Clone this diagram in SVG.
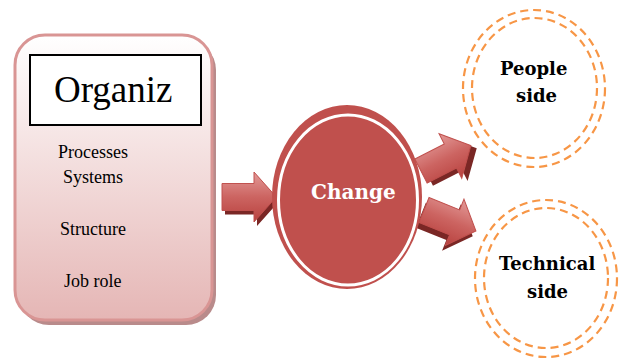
<svg xmlns="http://www.w3.org/2000/svg" width="623" height="358" viewBox="0 0 623 358">
  <defs>
    <linearGradient id="cardFill" x1="0" y1="0" x2="0" y2="1">
      <stop offset="0" stop-color="#ffffff"/>
      <stop offset="1" stop-color="#e5b6b5"/>
    </linearGradient>
    <linearGradient id="arrowFill" x1="0" y1="0" x2="0" y2="1">
      <stop offset="0" stop-color="#e39a98"/>
      <stop offset="0.5" stop-color="#cc6461"/>
      <stop offset="1" stop-color="#b8413e"/>
    </linearGradient>
    <!-- block arrow pointing along +x, tail at origin, length 56 -->
    <path id="blockArrow" d="M0,-13.5 L33,-13.5 L33,-25 L56,0 L33,25 L33,13.5 L0,13.5 Z"/>
  </defs>

  <rect width="623" height="358" fill="#ffffff"/>

  <!-- organisation card -->
  <g id="organiz">
    <rect x="19" y="40" width="197" height="285" rx="30" fill="#b98b8b"/>
    <rect x="15" y="35" width="197" height="285" rx="30" fill="url(#cardFill)" stroke="#d99594" stroke-width="3"/>
    <rect x="30" y="55" width="171" height="70" fill="#ffffff" stroke="#000000" stroke-width="2"/>
    <text x="54" y="102" font-size="37" font-family="Liberation Serif">Organiz</text>
    <text x="58" y="158" font-size="18" font-family="Liberation Serif">Processes</text>
    <text x="63" y="183" font-size="18" font-family="Liberation Serif">Systems</text>
    <text x="60" y="235" font-size="18" font-family="Liberation Serif">Structure</text>
    <text x="64" y="287" font-size="18" font-family="Liberation Serif">Job role</text>
  </g>

  <!-- connectors: block arrows with a dark drop shadow -->
  <g id="connectors">
    <g transform="translate(222,197)">
      <use href="#blockArrow" fill="#7a2725" transform="translate(3,4) scale(0.97,1)"/>
      <use href="#blockArrow" fill="url(#arrowFill)" stroke="#c0504d" stroke-width="1" transform="scale(0.97,1)"/>
    </g>
    <g transform="translate(421,171) rotate(-27)">
      <use href="#blockArrow" fill="#7a2725" transform="translate(4,5)"/>
      <use href="#blockArrow" fill="url(#arrowFill)" stroke="#c0504d" stroke-width="1"/>
    </g>
    <g transform="translate(424,210) rotate(22)">
      <use href="#blockArrow" fill="#7a2725" transform="translate(-1,6)"/>
      <use href="#blockArrow" fill="url(#arrowFill)" stroke="#c0504d" stroke-width="1"/>
    </g>
  </g>

  <!-- change hub -->
  <g id="change">
    <ellipse cx="347" cy="197" rx="75" ry="92" fill="#c0504d"/>
    <ellipse cx="348" cy="200" rx="69.5" ry="85" fill="none" stroke="#ffffff" stroke-width="3"/>
    <text x="311" y="199" font-size="20" font-family="DejaVu Serif" font-weight="bold" fill="#ffffff">Change</text>
  </g>

  <!-- people side: double dashed ring -->
  <g id="people-side">
    <ellipse cx="534" cy="88.5" rx="71" ry="78.5" fill="none" stroke="#f79646" stroke-width="2.2" stroke-dasharray="8 5"/>
    <ellipse cx="534.5" cy="88" rx="62.5" ry="70" fill="none" stroke="#f79646" stroke-width="2.2" stroke-dasharray="8 5"/>
    <text x="500" y="75" font-size="18" font-family="DejaVu Serif" font-weight="bold">People</text>
    <text x="516" y="102" font-size="18" font-family="DejaVu Serif" font-weight="bold">side</text>
  </g>

  <!-- technical side: double dashed ring -->
  <g id="technical-side">
    <ellipse cx="546" cy="278.5" rx="71" ry="78.5" fill="none" stroke="#f79646" stroke-width="2.2" stroke-dasharray="8 5"/>
    <ellipse cx="546" cy="278" rx="62" ry="70" fill="none" stroke="#f79646" stroke-width="2.2" stroke-dasharray="8 5"/>
    <text x="499" y="270" font-size="18" font-family="DejaVu Serif" font-weight="bold">Technical</text>
    <text x="527" y="298" font-size="18" font-family="DejaVu Serif" font-weight="bold">side</text>
  </g>
</svg>
